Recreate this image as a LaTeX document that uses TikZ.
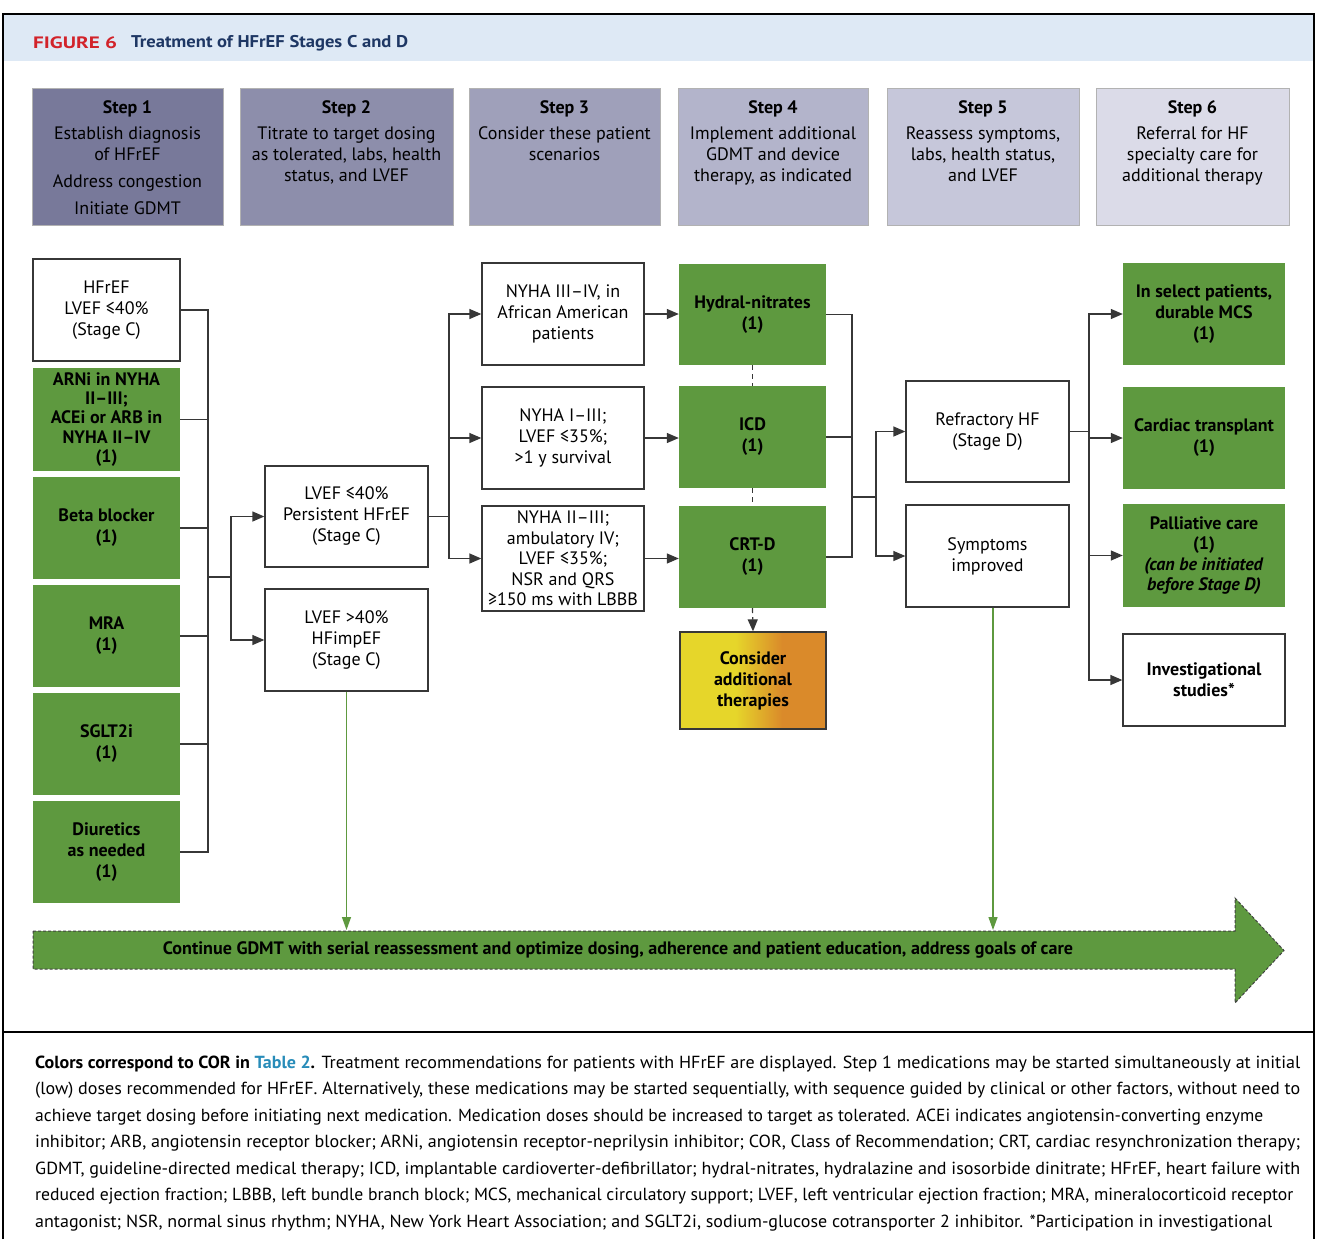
\documentclass[tikz,border=0pt]{standalone}
\usepackage{fontspec}
\setmainfont{PT Sans}
\usepackage{graphicx}
\usetikzlibrary{arrows.meta}
\definecolor{hdr}{RGB}{222,233,245}
\definecolor{figred}{RGB}{210,35,42}
\definecolor{navy}{RGB}{30,55,100}
\definecolor{ggreen}{RGB}{94,153,63}
\definecolor{lgray}{RGB}{55,55,55}
\definecolor{tblue}{RGB}{40,140,185}
\definecolor{cyel}{RGB}{230,214,42}
\definecolor{corg}{RGB}{218,138,42}
\definecolor{sa}{RGB}{120,121,154}
\definecolor{sb}{RGB}{141,142,171}
\definecolor{sc}{RGB}{159,160,186}
\definecolor{sd}{RGB}{179,180,203}
\definecolor{se}{RGB}{198,199,218}
\definecolor{sf}{RGB}{219,219,232}
\pgfdeclarehorizontalshading{yelorg}{100bp}{color(0bp)=(cyel); color(25bp)=(cyel); color(44bp)=(cyel); color(60bp)=(corg); color(75bp)=(corg); color(100bp)=(corg)}
\newcommand\dfont{\fontsize{18}{21}\selectfont}
\newcommand\dbfont{\fontsize{18}{21}\selectfont\bfseries}
\newcommand\capfont{\fontsize{17.5}{21}\selectfont}
\tikzset{
  wbox/.style={draw=lgray, line width=1.3pt, fill=white, inner sep=0pt, align=center, font=\dfont},
  wbbox/.style={draw=lgray, line width=1.3pt, fill=white, inner sep=0pt, align=center, font=\dbfont},
  gbox/.style={fill=ggreen, inner sep=0pt, align=center, font=\dbfont},
  stepbox/.style={draw=black!30, line width=0.8pt, inner sep=0pt},
  steptext/.style={inner sep=0pt, align=center, font=\dfont, anchor=north},
  conn/.style={draw=lgray, line width=1.3pt},
  arr/.style={draw=lgray, line width=1.3pt, -{Triangle[length=12pt,width=10pt]}},
  dsh/.style={draw=lgray, line width=1.2pt, dash pattern=on 5pt off 4pt},
  garr/.style={draw=ggreen, line width=1.3pt, -{Triangle[length=13pt,width=9pt]}},
  capline/.style={inner sep=0pt, anchor=base west, font=\capfont}
}
\begin{document}
\begin{tikzpicture}[x=1pt,y=-1pt]
\useasboundingbox (0,0) rectangle (1321,1239);
% header
\fill[hdr] (3,14) rectangle (1314,61);
\node[inner sep=0pt, anchor=west, font=\fontsize{16.5}{18}\selectfont\bfseries] (fig) at (33,43) {\resizebox{84pt}{\height}{\color{figred}FIGURE 6}};
\node[inner sep=0pt, anchor=west, font=\fontsize{17}{18}\selectfont\bfseries] (title) at (131,43) {\resizebox{277pt}{\height}{\color{navy}Treatment of HFrEF Stages C and D}};
% frame
\draw[line width=2pt, black] (3,1239) -- (3,14) -- (1314,14) -- (1314,1239);
\draw[line width=2pt, black] (3,1032) -- (1314,1032);
% step boxes
\node[stepbox, fill=sa, minimum width=191pt, minimum height=137pt] (s1) at (127.5,156.5) {};
\node[stepbox, fill=sb, minimum width=213pt, minimum height=137pt] (s2) at (346.5,156.5) {};
\node[stepbox, fill=sc, minimum width=191pt, minimum height=137pt] (s3) at (564.5,156.5) {};
\node[stepbox, fill=sd, minimum width=190pt, minimum height=137pt] (s4) at (773,156.5) {};
\node[stepbox, fill=se, minimum width=192pt, minimum height=137pt] (s5) at (983,156.5) {};
\node[stepbox, fill=sf, minimum width=193pt, minimum height=137pt] (s6) at (1192.5,156.5) {};
\node[steptext] (t1) at (127.5,100) {{\bfseries Step 1}\\[5pt]Establish diagnosis\\of HFrEF\\[6pt]Address congestion\\[6.5pt]Initiate GDMT};
\node[steptext] (t2) at (346.5,100) {{\bfseries Step 2}\\[5pt]Titrate to target dosing\\as tolerated, labs, health\\status, and LVEF};
\node[steptext] (t3) at (564.5,100) {{\bfseries Step 3}\\[5pt]Consider these patient\\scenarios};
\node[steptext] (t4) at (773,100) {{\bfseries Step 4}\\[5pt]Implement additional\\GDMT and device\\therapy, as indicated};
\node[steptext] (t5) at (983,100) {{\bfseries Step 5}\\[5pt]Reassess symptoms,\\labs, health status,\\and LVEF};
\node[steptext] (t6) at (1192.5,100) {{\bfseries Step 6}\\[5pt]Referral for HF\\specialty care for\\additional therapy};
% left column
\node[wbox, minimum width=147pt, minimum height=102pt] (hfref) at (106.5,310) {HFrEF\\LVEF ≤40\%\\(Stage C)};
\node[gbox, minimum width=147pt, minimum height=103pt, font=\fontsize{18}{19.3}\selectfont\bfseries] (arni) at (106.5,419.5) {ARNi in NYHA\\II–III;\\ACEi or ARB in\\NYHA II–IV\\(1)};
\node[gbox, minimum width=147pt, minimum height=102pt] (bb) at (106.5,528) {Beta blocker\\(1)};
\node[gbox, minimum width=147pt, minimum height=102pt] (mra) at (106.5,636) {MRA\\(1)};
\node[gbox, minimum width=147pt, minimum height=102pt] (sglt) at (106.5,744) {SGLT2i\\(1)};
\node[gbox, minimum width=147pt, minimum height=102pt] (diur) at (106.5,852) {Diuretics\\as needed\\(1)};
% LVEF boxes
\node[wbox, minimum width=163pt, minimum height=101pt] (lvef1) at (346.5,516.5) {LVEF ≤40\%\\Persistent HFrEF\\(Stage C)};
\node[wbox, minimum width=163pt, minimum height=102pt] (lvef2) at (346.5,640) {LVEF >40\%\\HFimpEF\\(Stage C)};
% NYHA boxes
\node[wbox, minimum width=162pt, minimum height=102pt] (ny1) at (563,314) {NYHA III–IV, in\\African American\\patients};
\node[wbox, minimum width=162pt, minimum height=102pt] (ny2) at (563,438) {NYHA I–III;\\LVEF ≤35\%;\\>1 y survival};
\node[wbox, minimum width=162pt, minimum height=105pt, font=\fontsize{18}{20.5}\selectfont] (ny3) at (563,558.5) {NYHA II–III;\\ambulatory IV;\\LVEF ≤35\%;\\NSR and QRS\\≥150 ms with LBBB};
% step 4 green
\node[gbox, minimum width=147pt, minimum height=101pt] (hydral) at (752.5,314.5) {Hydral-nitrates\\(1)};
\node[gbox, minimum width=147pt, minimum height=102pt] (icd) at (752.5,437) {ICD\\(1)};
\node[gbox, minimum width=147pt, minimum height=102pt] (crtd) at (752.5,557) {CRT-D\\(1)};
\node[draw=lgray, line width=1.3pt, shading=yelorg, inner sep=0pt, align=center, font=\dbfont, minimum width=146pt, minimum height=97pt] (consider) at (753,680.5) {Consider\\additional\\therapies};
% step 5
\node[wbox, minimum width=163pt, minimum height=101pt] (refr) at (987.5,431.5) {Refractory HF\\(Stage D)};
\node[wbox, minimum width=163pt, minimum height=102pt] (symp) at (987.5,556) {Symptoms\\improved};
% step 6
\node[gbox, minimum width=162pt, minimum height=102pt] (mcs) at (1204,314) {In select patients,\\durable MCS\\(1)};
\node[gbox, minimum width=162pt, minimum height=102pt] (ctx) at (1204,438) {Cardiac transplant\\(1)};
\node[gbox, minimum width=162pt, minimum height=103pt, font=\fontsize{18}{20.3}\selectfont\bfseries] (pall) at (1204,555.5) {Palliative care\\(1)\\\textit{(can be initiated}\\\textit{before Stage D)}};
\node[wbbox, minimum width=162pt, minimum height=92pt] (inv) at (1204,680) {Investigational\\studies*};
% connectors left
\coordinate (busA) at (208,577);
\coordinate (busB) at (231,577);
\draw[conn] (hfref.east) -| (busA);
\draw[conn] (diur.east) -| (busA);
\draw[conn] (arni.east) -- (arni.east -| busA);
\draw[conn] (bb.east) -- (bb.east -| busA);
\draw[conn] (mra.east) -- (mra.east -| busA);
\draw[conn] (sglt.east) -- (sglt.east -| busA);
\draw[conn] (busA) -- (busB);
\draw[arr] (busB) |- (lvef1.west);
\draw[arr] (busB) |- (lvef2.west);
% to NYHA
\coordinate (busC) at (449,516.5);
\draw[conn] (lvef1.east) -- (busC);
\draw[arr] (busC) |- (ny1.west);
\draw[arr] (busC) |- (ny2.west);
\draw[arr] (busC) |- (ny3.west);
\draw[arr] (ny1.east) -- (ny1.east -| hydral.west);
\draw[arr] (ny2.east) -- (ny2.east -| icd.west);
\draw[arr] (ny3.east) -- (ny3.east -| crtd.west);
\draw[dsh] (hydral.south) -- (icd.north);
\draw[dsh] (icd.south) -- (crtd.north);
\draw[dsh, -{Triangle[length=12pt,width=10pt]}] (crtd.south) -- (consider.north);
% to step 5
\coordinate (busD) at (852,497);
\coordinate (busE) at (876,497);
\draw[conn] (hydral.east) -| (busD);
\draw[conn] (crtd.east) -| (busD);
\draw[conn] (icd.east) -- (icd.east -| busD);
\draw[conn] (busD) -- (busE);
\draw[arr] (busE) |- (refr.west);
\draw[arr] (busE) |- (symp.west);
% to step 6
\coordinate (busF) at (1089,431.5);
\draw[conn] (refr.east) -- (busF);
\draw[arr] (busF) |- (mcs.west);
\draw[arr] (busF) |- (ctx.west);
\draw[arr] (busF) |- (pall.west);
\draw[arr] (busF) |- (inv.west);
% big arrow
\fill[ggreen] (33,931) -- (1235,931) -- (1235,898) -- (1284,950.5) -- (1235,1003) -- (1235,969) -- (33,969) -- cycle;
\draw[black!75, line width=1pt, dash pattern=on 3pt off 2pt] (33,931) -- (1235,931) -- (1235,898) -- (1284,950.5) -- (1235,1003) -- (1235,969) -- (33,969) -- cycle;
\node[inner sep=0pt, font=\fontsize{18}{20}\selectfont\bfseries] (cont) at (618,950) {\resizebox{910pt}{\height}{Continue GDMT with serial reassessment and optimize dosing, adherence and patient education, address goals of care}};
\coordinate (g1top) at (346.5,930);
\coordinate (g2top) at (993,930);
\draw[garr] (lvef2.south) -- (g1top);
\draw[garr] (symp.south -| g2top) -- (g2top);
% caption
\node[capline] (c1) at (35,1068) {\resizebox{1265pt}{\height}{\textbf{Colors correspond to COR in \textcolor{tblue}{Table 2}.} Treatment recommendations for patients with HFrEF are displayed. Step 1 medications may be started simultaneously at initial}};
\node[capline] (c2) at (35,1094.5) {\resizebox{1265pt}{\height}{(low) doses recommended for HFrEF. Alternatively, these medications may be started sequentially, with sequence guided by clinical or other factors, without need to}};
\node[capline] (c3) at (35,1121) {\resizebox{1228pt}{\height}{achieve target dosing before initiating next medication. Medication doses should be increased to target as tolerated. ACEi indicates angiotensin-converting enzyme}};
\node[capline] (c4) at (35,1147.5) {\resizebox{1265pt}{\height}{inhibitor; ARB, angiotensin receptor blocker; ARNi, angiotensin receptor-neprilysin inhibitor; COR, Class of Recommendation; CRT, cardiac resynchronization therapy;}};
\node[capline] (c5) at (35,1174) {\resizebox{1265pt}{\height}{GDMT, guideline-directed medical therapy; ICD, implantable cardioverter-defibrillator; hydral-nitrates, hydralazine and isosorbide dinitrate; HFrEF, heart failure with}};
\node[capline] (c6) at (35,1200.5) {\resizebox{1258pt}{\height}{reduced ejection fraction; LBBB, left bundle branch block; MCS, mechanical circulatory support; LVEF, left ventricular ejection fraction; MRA, mineralocorticoid receptor}};
\node[capline] (c7) at (35,1227) {\resizebox{1237pt}{\height}{antagonist; NSR, normal sinus rhythm; NYHA, New York Heart Association; and SGLT2i, sodium-glucose cotransporter 2 inhibitor. *Participation in investigational}};
\end{tikzpicture}
\end{document}
